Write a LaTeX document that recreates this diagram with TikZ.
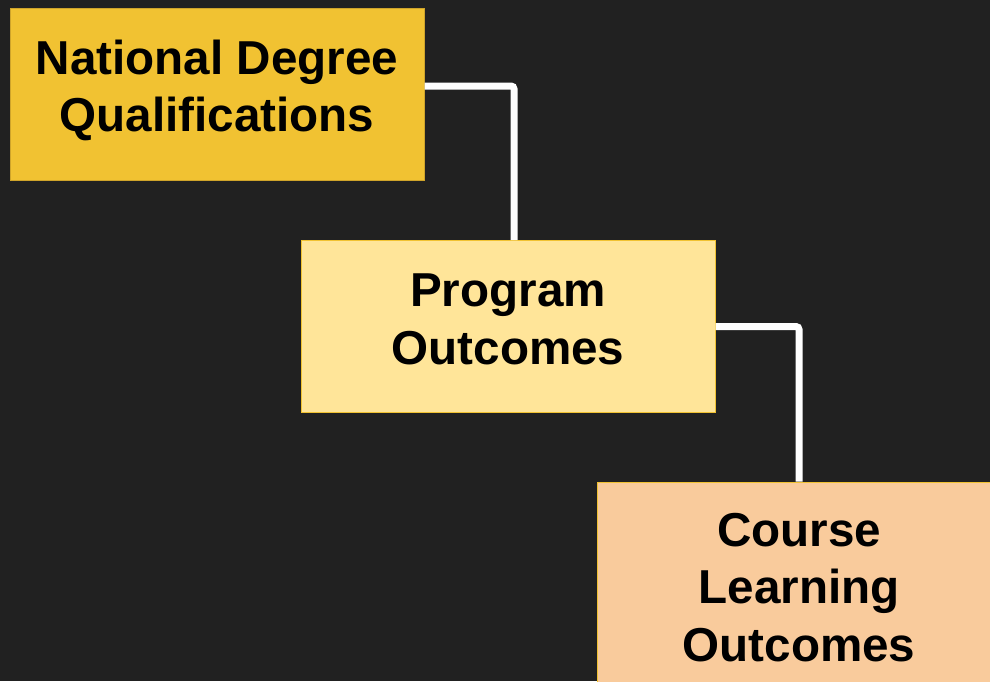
\documentclass[tikz,border=0pt]{standalone}
\usepackage{fontspec}
\setmainfont{Liberation Sans}
\definecolor{bgdark}{HTML}{212121}
\definecolor{gold}{HTML}{F1C232}
\definecolor{goldedge}{HTML}{CFA42A}
\definecolor{lightyellow}{HTML}{FFE599}
\definecolor{peach}{HTML}{F9CB9C}
\newcommand{\topstrut}{\rule{0pt}{42pt}}
\newcommand{\botstrut}{\rule[-24pt]{0pt}{24pt}}
\tikzset{
  box/.style={rectangle, draw=gold, line width=1pt, minimum width=414pt, minimum height=172pt,
    inner sep=0pt, align=center, text=black,
    font=\fontsize{47.6pt}{57.5pt}\selectfont\bfseries},
  link/.style={draw=white, line width=7pt, rounded corners=3pt}
}
\begin{document}
\begin{tikzpicture}[x=1pt,y=-1pt]
\fill[bgdark] (0,0) rectangle (990,681);
\useasboundingbox (0,0) rectangle (990,681);
\begin{scope}
\clip (0,0) rectangle (990,681);
\node[box, fill=gold, draw=goldedge] (b1) at (217,94) {\topstrut National Degree\\Qualifications\botstrut};
\node[box, fill=lightyellow] (b2) at (508,326.5) {\topstrut Program\\Outcomes\botstrut};
\node[box, fill=peach, minimum width=404pt, minimum height=225pt] (b3) at (799,594.5) {\topstrut Course\\Learning\\Outcomes\botstrut};
\draw[link] ([yshift=8pt]b1.east) -| ([xshift=6pt]b2.north);
\draw[link] (b2.east) -| (b3.north);
\end{scope}
\end{tikzpicture}
\end{document}
